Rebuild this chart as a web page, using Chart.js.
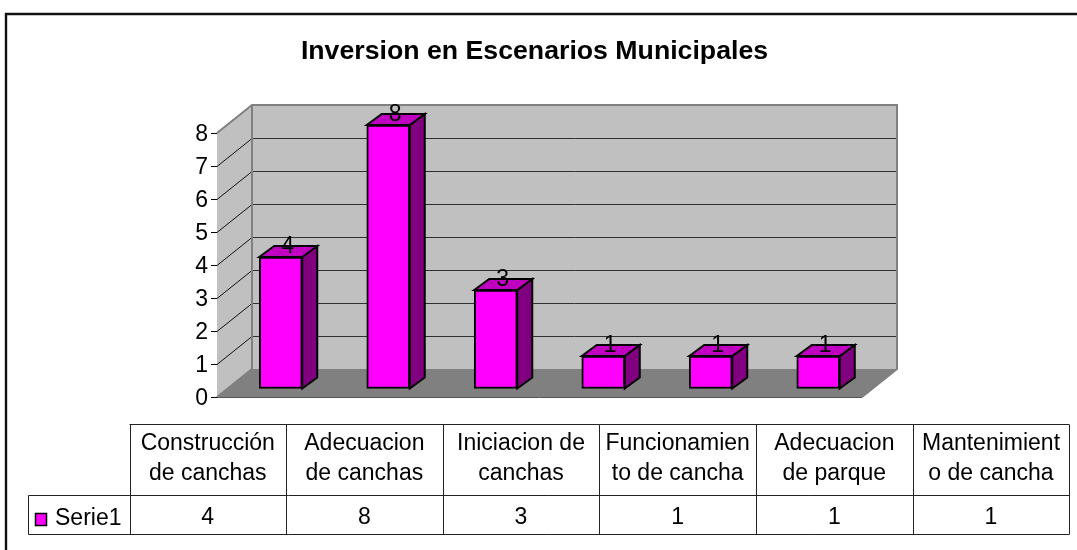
<!DOCTYPE html>
<html>
<head>
<meta charset="utf-8">
<style>
  html, body { margin: 0; padding: 0; background: #fff; }
  canvas { display: block; }
</style>
<script src="https://cdn.jsdelivr.net/npm/chart.js@4/dist/chart.umd.min.js"></script>
</head>
<body>
<canvas id="chart" width="1077" height="550"></canvas>
<script>
const titleText = 'Inversion en Escenarios Municipales';
const seriesName = 'Serie1';
const categories = [
  ['Construcción', 'de canchas'],
  ['Adecuacion', 'de canchas'],
  ['Iniciacion de', 'canchas'],
  ['Funcionamien', 'to de cancha'],
  ['Adecuacion', 'de parque'],
  ['Mantenimient', 'o de cancha']
];
const seriesValues = [4, 8, 3, 1, 1, 1];
const yTicks = [0, 1, 2, 3, 4, 5, 6, 7, 8];

const FONT = '23px "Liberation Sans", Arial, sans-serif';
// depth of the box the bars stand in, and of the bars themselves
const WALL_DX = 35, WALL_DY = -28;
const BAR_DX = 15, BAR_DY = -11;
const BAR_SHIFT_X = 10, BAR_SHIFT_Y = -8;
// data table under the plot
const COL_X = [129.5, 286, 442.7, 599.3, 756, 912.7, 1069.3];
const ROW_Y = [424.5, 495.5, 534.5];
const TABLE_LEFT = 28.5;

const box3d = {
  id: 'box3d',
  beforeDraw(chart) {
    const ctx = chart.ctx;
    // outer frame, cut off on the right and at the bottom
    ctx.save();
    ctx.strokeStyle = '#111';
    ctx.lineWidth = 2.4;
    ctx.beginPath();
    ctx.moveTo(6, 550);
    ctx.lineTo(6, 14);
    ctx.lineTo(1077, 14);
    ctx.stroke();
    ctx.restore();
  },
  beforeDatasetsDraw(chart) {
    const ctx = chart.ctx;
    const { left, right } = chart.chartArea;
    const y = chart.scales.y;
    const y0 = y.getPixelForValue(0);
    const y8 = y.getPixelForValue(8);

    ctx.save();
    // floor
    ctx.fillStyle = '#808080';
    ctx.beginPath();
    ctx.moveTo(left, y0);
    ctx.lineTo(right, y0);
    ctx.lineTo(right + WALL_DX, y0 + WALL_DY);
    ctx.lineTo(left + WALL_DX, y0 + WALL_DY);
    ctx.closePath();
    ctx.fill();
    // left wall and back wall
    ctx.fillStyle = '#c0c0c0';
    ctx.beginPath();
    ctx.moveTo(left, y0);
    ctx.lineTo(left + WALL_DX, y0 + WALL_DY);
    ctx.lineTo(left + WALL_DX, y8 + WALL_DY);
    ctx.lineTo(left, y8);
    ctx.closePath();
    ctx.fill();
    ctx.fillRect(left + WALL_DX, y8 + WALL_DY, right - left, y0 - y8);

    // grid lines on both walls
    yTicks.slice(1, -1).forEach(v => {
      const py = Math.round(y.getPixelForValue(v)) + 0.5;
      ctx.lineWidth = 1;
      ctx.strokeStyle = '#111';
      ctx.beginPath();
      ctx.moveTo(left, py);
      ctx.lineTo(left + WALL_DX, py + WALL_DY);
      ctx.stroke();
      ctx.strokeStyle = '#303030';
      ctx.beginPath();
      ctx.moveTo(left + WALL_DX, py + WALL_DY);
      ctx.lineTo(right + WALL_DX, py + WALL_DY);
      ctx.stroke();
    });

    // wall edges
    ctx.strokeStyle = '#808080';
    ctx.lineWidth = 2;
    ctx.beginPath();
    ctx.moveTo(left, y8);
    ctx.lineTo(left + WALL_DX, y8 + WALL_DY);
    ctx.lineTo(right + WALL_DX, y8 + WALL_DY);
    ctx.lineTo(right + WALL_DX, y0 + WALL_DY);
    ctx.lineTo(right, y0);
    ctx.moveTo(left + WALL_DX, y8 + WALL_DY);
    ctx.lineTo(left + WALL_DX, y0 + WALL_DY);
    ctx.lineTo(left, y0);
    ctx.stroke();
    ctx.strokeStyle = '#555';
    ctx.lineWidth = 1;
    ctx.beginPath();
    ctx.moveTo(left, y0 + 0.5);
    ctx.lineTo(right, y0 + 0.5);
    ctx.stroke();

    // sides of the bars, then the bars on top of them
    ctx.translate(BAR_SHIFT_X, BAR_SHIFT_Y);
    ctx.strokeStyle = '#000';
    ctx.lineWidth = 2;
    ctx.lineJoin = 'miter';
    chart.getDatasetMeta(0).data.forEach(bar => {
      const l = bar.x - bar.width / 2;
      const r = bar.x + bar.width / 2;
      ctx.fillStyle = '#800080';
      ctx.beginPath();
      ctx.moveTo(r, bar.base);
      ctx.lineTo(r + BAR_DX, bar.base + BAR_DY);
      ctx.lineTo(r + BAR_DX, bar.y + BAR_DY);
      ctx.lineTo(r, bar.y);
      ctx.closePath();
      ctx.fill();
      ctx.stroke();
      ctx.fillStyle = '#c000c0';
      ctx.beginPath();
      ctx.moveTo(l, bar.y);
      ctx.lineTo(l + BAR_DX, bar.y + BAR_DY);
      ctx.lineTo(r + BAR_DX, bar.y + BAR_DY);
      ctx.lineTo(r, bar.y);
      ctx.closePath();
      ctx.fill();
      ctx.stroke();
    });
  },
  afterDatasetsDraw(chart) {
    const ctx = chart.ctx;
    // value labels, still in the shifted bar plane
    ctx.font = FONT;
    ctx.fillStyle = '#000';
    ctx.textAlign = 'center';
    ctx.textBaseline = 'middle';
    chart.getDatasetMeta(0).data.forEach((bar, i) => {
      ctx.fillText(String(seriesValues[i]), bar.x + 7, bar.y - 10.5);
    });
    ctx.restore();
  },
  afterDraw(chart) {
    const ctx = chart.ctx;
    ctx.save();
    // data table lines
    ctx.strokeStyle = '#222';
    ctx.lineWidth = 1;
    ctx.beginPath();
    ctx.moveTo(COL_X[0], ROW_Y[0]);
    ctx.lineTo(COL_X[6], ROW_Y[0]);
    ctx.moveTo(TABLE_LEFT, ROW_Y[1]);
    ctx.lineTo(COL_X[6], ROW_Y[1]);
    ctx.moveTo(TABLE_LEFT, ROW_Y[2]);
    ctx.lineTo(COL_X[6], ROW_Y[2]);
    ctx.moveTo(TABLE_LEFT, ROW_Y[1]);
    ctx.lineTo(TABLE_LEFT, ROW_Y[2]);
    COL_X.forEach(x => {
      ctx.moveTo(Math.round(x) + 0.5, ROW_Y[0]);
      ctx.lineTo(Math.round(x) + 0.5, ROW_Y[2]);
    });
    ctx.stroke();

    // data table text
    ctx.font = FONT;
    ctx.fillStyle = '#000';
    ctx.textBaseline = 'middle';
    ctx.textAlign = 'center';
    categories.forEach((lines, i) => {
      const cx = (COL_X[i] + COL_X[i + 1]) / 2;
      ctx.fillText(lines[0], cx, 444);
      ctx.fillText(lines[1], cx, 474);
      ctx.fillText(String(seriesValues[i]), cx, 517.5);
    });

    // legend key in the table
    ctx.fillStyle = '#ff00ff';
    ctx.fillRect(35.5, 513.5, 11, 12);
    ctx.strokeStyle = '#000';
    ctx.lineWidth = 1.5;
    ctx.strokeRect(35.5, 513.5, 11, 12);
    ctx.fillStyle = '#000';
    ctx.textAlign = 'left';
    ctx.fillText(seriesName, 55, 518.5);
    ctx.restore();
  }
};

new Chart(document.getElementById('chart'), {
  type: 'bar',
  data: {
    labels: categories,
    datasets: [{
      label: seriesName,
      data: seriesValues,
      backgroundColor: '#ff00ff',
      borderColor: '#000',
      borderWidth: 2,
      borderSkipped: false,
      barThickness: 43,
      clip: false
    }]
  },
  options: {
    responsive: false,
    animation: false,
    layout: { padding: { left: 0, right: 8, top: 0, bottom: 153 } },
    plugins: {
      legend: { display: false },
      tooltip: { enabled: false },
      title: {
        display: true,
        text: titleText,
        color: '#000',
        font: { family: '"Liberation Sans", Arial, sans-serif', size: 26.7, weight: 'bold', lineHeight: 1.2 },
        padding: { top: 35.5, bottom: 65.5 }
      }
    },
    scales: {
      x: { display: false },
      y: {
        min: 0,
        max: 8,
        afterFit: scale => { scale.width = 217; },
        afterBuildTicks: scale => { scale.ticks = yTicks.map(value => ({ value })); },
        border: { color: '#000', width: 1 },
        grid: { drawOnChartArea: false, color: '#000', tickLength: 6, tickWidth: 1 },
        ticks: {
          color: '#000',
          padding: 3,
          labelOffset: 1.5,
          font: { family: '"Liberation Sans", Arial, sans-serif', size: 23 }
        }
      },
      yRight: {
        position: 'right',
        grid: { display: false },
        border: { display: false },
        ticks: { display: false },
        afterFit: scale => { scale.width = 207; }
      }
    }
  },
  plugins: [box3d]
});
</script>
</body>
</html>
